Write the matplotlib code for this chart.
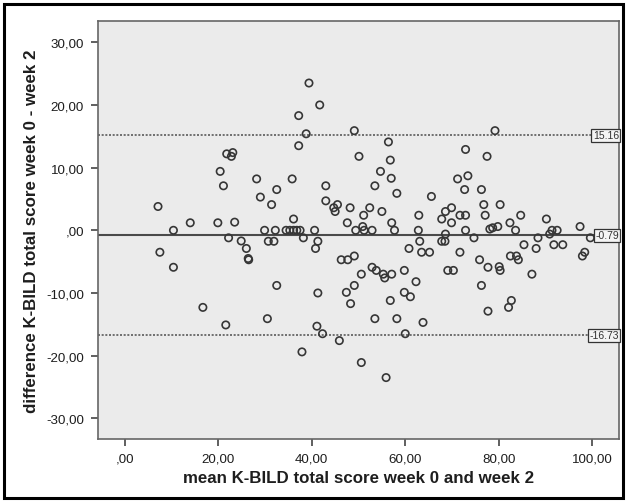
import matplotlib
matplotlib.use("Agg")
import matplotlib.pyplot as plt
from matplotlib.patches import Rectangle

mean_score = [7.1, 7.5, 10.4, 10.4, 14.0, 16.7, 19.9, 20.4, 21.1, 21.6, 21.8, 22.8, 23.1, 22.2,
              23.5, 24.9, 26.0, 26.4, 26.5, 28.2, 29.0, 29.9, 30.5, 30.7, 31.4, 31.9, 32.2, 32.5,
              32.5, 34.5, 35.3, 35.8, 36.1, 36.1, 36.8, 37.5, 37.2, 37.2, 37.9, 38.2, 38.8, 39.4,
              40.6, 40.8, 41.3, 41.3, 41.1, 41.7, 42.3, 43.0, 43.0, 44.7, 45.0, 45.5, 45.9, 46.3,
              47.4, 47.6, 47.7, 48.2, 48.3, 49.1, 49.1, 49.1, 49.4, 50.1, 50.6, 50.6, 50.9, 51.2,
              51.1, 52.4, 52.9, 52.9, 53.5, 53.8, 53.5, 54.7, 55.0, 55.3, 55.6, 55.9, 56.4, 56.8,
              56.8, 57.0, 57.1, 57.1, 57.7, 58.2, 58.2, 59.8, 59.8, 60.0, 60.8, 61.1, 62.3, 62.9,
              62.8, 63.1, 63.5, 63.8, 65.2, 65.6, 67.8, 67.8, 68.5, 68.6, 68.6, 69.1, 69.9, 69.9,
              70.3, 71.2, 71.7, 71.7, 72.7, 72.9, 72.9, 72.9, 73.4, 74.7, 75.9, 76.3, 76.3, 76.8,
              77.1, 77.5, 77.7, 77.7, 78.1, 78.7, 79.2, 79.8, 80.1, 80.3, 80.3, 82.4, 82.5, 82.7,
              82.1, 83.6, 83.8, 84.2, 84.7, 85.4, 87.1, 88.0, 88.4, 90.2, 90.9, 91.4, 91.8, 92.5,
              93.7, 97.4, 97.9, 98.4, 99.6]
difference = [3.8, -3.5, 0.0, -5.9, 1.2, -12.3, 1.2, 9.4, 7.1, -15.1, 12.2, 11.8, 12.4, -1.2,
              1.3, -1.7, -2.9, -4.5, -4.7, 8.2, 5.3, 0.0, -14.1, -1.75, 4.1, -1.75, 0.0, 6.5,
              -8.8, 0.0, 0.0, 8.2, 1.8, 0.0, 0.0, 0.0, 18.3, 13.5, -19.4, -1.2, 15.4, 23.5,
              0.0, -2.9, -1.75, -10.0, -15.3, 20.0, -16.5, 7.1, 4.7, 3.6, 3.0, 4.1, -17.6, -4.7,
              -9.9, 1.2, -4.7, 3.6, -11.7, -4.1, -8.8, 15.9, 0.0, 11.8, -7.0, -21.1, 0.6, 0.0,
              2.4, 3.6, 0.0, -5.9, 7.1, -6.4, -14.1, 9.4, 3.0, -7.0, -7.6, -23.5, 14.1, 11.2,
              -11.2, 8.3, -7.0, 1.2, 0.0, 5.9, -14.1, -6.4, -9.9, -16.5, -2.9, -10.6, -8.2, 2.4,
              0.0, -1.75, -3.5, -14.7, -3.5, 5.4, 1.8, -1.75, -1.75, 3.0, -0.6, -6.4, 3.6, 1.2,
              -6.4, 8.2, 2.4, -3.5, 6.5, 2.4, 12.9, 0.0, 8.7, -1.2, -4.7, 6.5, -8.8, 4.1,
              2.4, 11.8, -5.9, -12.9, 0.2, 0.4, 15.9, 0.6, -5.8, 4.1, -6.4, 1.2, -4.1, -11.2,
              -12.3, 0.0, -4.1, -4.7, 2.4, -2.3, -7.0, -2.9, -1.2, 1.8, -0.6, 0.0, -2.3, 0.0,
              -2.3, 0.6, -4.1, -3.5, -1.2]

mean_diff = -0.79
upper_loa = 15.16
lower_loa = -16.73

x_ticks = [0, 20, 40, 60, 80, 100]
x_ticklabels = [",00", "20,00", "40,00", "60,00", "80,00", "100,00"]
y_ticks = [-30, -20, -10, 0, 10, 20, 30]
y_ticklabels = ["-30,00", "-20,00", "-10,00", ",00", "10,00", "20,00", "30,00"]

plt.rcParams['font.family'] = ['Liberation Sans', 'DejaVu Sans']

fig = plt.figure(figsize=(6.27, 5.02), dpi=100)
ax = fig.add_axes([0.1563, 0.1235, 0.987 - 0.1563, 0.9556 - 0.1235])
ax.set_facecolor('#ebebeb')

ax.scatter(mean_score, difference, s=28, facecolors='none', edgecolors='#363636',
           linewidths=1.2, zorder=3)

ax.axhline(mean_diff, color='#4a4a4a', lw=1.5, zorder=2)
ax.axhline(upper_loa, color='#5a5a5a', lw=1.2, ls=(0, (1.2, 1.0)), zorder=2)
ax.axhline(lower_loa, color='#5a5a5a', lw=1.2, ls=(0, (1.2, 1.0)), zorder=2)

for val in [upper_loa, mean_diff, lower_loa]:
    ax.text(1.0, val, f"{val:.2f}", transform=ax.get_yaxis_transform(),
            ha='right', va='center', fontsize=7.5, color='#333333',
            bbox=dict(boxstyle='square,pad=0.15', fc='#f4f4f4', ec='#333333', lw=0.9),
            zorder=4, clip_on=False)

ax.set_xlim(-5.74, 105.7)
ax.set_ylim(-33.3, 33.35)
ax.set_xticks(x_ticks)
ax.set_xticklabels(x_ticklabels)
ax.set_yticks(y_ticks)
ax.set_yticklabels(y_ticklabels)
ax.tick_params(direction='out', length=5, width=1.2, color='#444444', labelsize=9.6,
               labelcolor='#1e1e1e', pad=5)
for s in ax.spines.values():
    s.set_color('#666666')
    s.set_linewidth(1.2)

ax.set_xlabel("mean K-BILD total score week 0 and week 2", fontsize=12.2, fontweight='bold',
              color='#1e1e1e', labelpad=4)
ax.set_ylabel("difference K-BILD total score week 0 - week 2", fontsize=12.2, fontweight='bold',
              color='#1e1e1e', labelpad=5)

fig.patches.append(Rectangle((0.006, 0.006), 0.988, 0.984, transform=fig.transFigure,
                             fill=False, ec='black', lw=2.2))

fig.savefig("out.png", dpi=100)
